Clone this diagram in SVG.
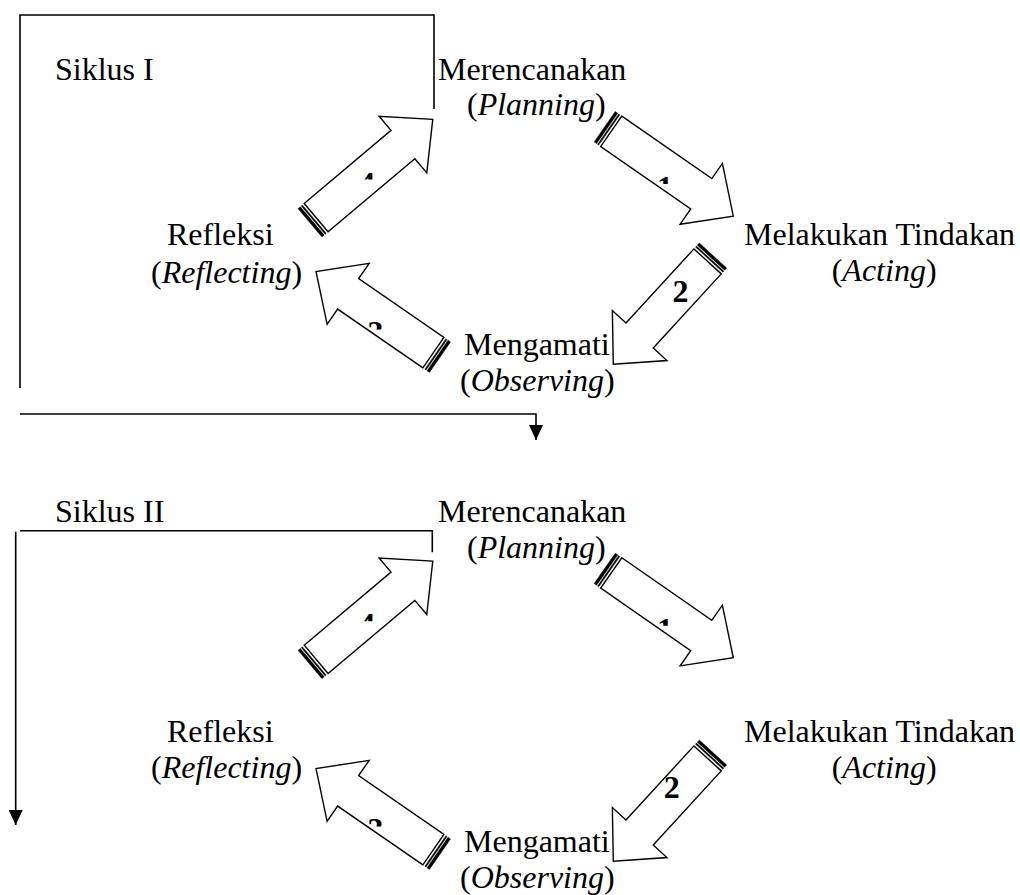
<svg xmlns="http://www.w3.org/2000/svg" xmlns:xlink="http://www.w3.org/1999/xlink" width="1020" height="895" viewBox="0 0 1020 895">
<defs>
<style>
text{font-family:"Liberation Serif","Times New Roman",serif;font-size:32px;fill:#000}
.it{font-style:italic}
.num{font-weight:bold;text-anchor:middle}
.body{fill:#fff;stroke:#000;stroke-width:1.4;stroke-linejoin:miter}
.stripe{fill:#000;stroke:#000;stroke-width:0.4}
.ln{fill:none;stroke:#000;stroke-width:1.6}
</style>
<marker id="ah" markerUnits="userSpaceOnUse" markerWidth="15" markerHeight="14" refX="15" refY="7" orient="auto"><path d="M0,0 L15,7 L0,14 Z" fill="#000"/></marker>
<g id="stripes" class="stripe"><rect x="0" y="-18.5" width="3" height="37"/><rect x="4.2" y="-18.5" width="1.4" height="37"/></g>
<clipPath id="k4a"><rect x="340" y="150" width="60" height="29.5"/></clipPath>
<clipPath id="k1a"><rect x="640" y="150" width="60" height="34"/></clipPath>
<clipPath id="k3a"><rect x="350" y="300" width="60" height="29.5"/></clipPath>
<clipPath id="k4b"><rect x="340" y="591.7" width="60" height="29.5"/></clipPath>
<clipPath id="k1b"><rect x="640" y="591.7" width="60" height="34"/></clipPath>
<clipPath id="k3b"><rect x="350" y="797" width="60" height="29.5"/></clipPath>
</defs>
<rect width="1020" height="895" fill="#fff"/>

<g id="connectors">
  <!-- Cycle I -->
  <g id="c1-a1">
    <g transform="translate(604.7,126.7) rotate(34.8)"><use xlink:href="#stripes"/><path class="body" d="M8,-18.5 H117.6 V-37 L156.6,0 L117.6,37 V18.5 H8 Z"/></g>
    <text class="num" x="665" y="198" clip-path="url(#k1a)">1</text>
  </g>
  <g id="c1-a2">
    <g transform="translate(713,255.5) rotate(132.5)"><use xlink:href="#stripes"/><path class="body" d="M8,-18.5 H108.6 V-37 L147.6,0 L108.6,37 V18.5 H8 Z"/></g>
    <text class="num" x="680.5" y="301.7">2</text>
  </g>
  <g id="c1-a3">
    <g transform="translate(440,357.2) rotate(214.6)"><use xlink:href="#stripes"/><path class="body" d="M8,-18.5 H111.6 V-37 L150.6,0 L111.6,37 V18.5 H8 Z"/></g>
    <text class="num" x="375.5" y="342.6" clip-path="url(#k3a)">3</text>
  </g>
  <g id="c1-a4">
    <g transform="translate(310,222.8) rotate(-40.1)"><use xlink:href="#stripes"/><path class="body" d="M8,-18.5 H121.5 V-37 L160.5,0 L121.5,37 V18.5 H8 Z"/></g>
    <text class="num" x="367" y="193.6" clip-path="url(#k4a)">4</text>
  </g>
  <path class="ln" d="M434,109 V15 H20 V388"/>
  <path class="ln" d="M20,414 H536 V440" marker-end="url(#ah)"/>

  <!-- Cycle II -->
  <g id="c2-a1">
    <g transform="translate(604.7,568.4) rotate(34.8)"><use xlink:href="#stripes"/><path class="body" d="M8,-18.5 H117.6 V-37 L156.6,0 L117.6,37 V18.5 H8 Z"/></g>
    <text class="num" x="665" y="639.7" clip-path="url(#k1b)">1</text>
  </g>
  <g id="c2-a2">
    <g transform="translate(713,752.5) rotate(132.5)"><use xlink:href="#stripes"/><path class="body" d="M8,-18.5 H108.6 V-37 L147.6,0 L108.6,37 V18.5 H8 Z"/></g>
    <text class="num" x="671.7" y="798.3">2</text>
  </g>
  <g id="c2-a3">
    <g transform="translate(440,854.2) rotate(214.6)"><use xlink:href="#stripes"/><path class="body" d="M8,-18.5 H111.6 V-37 L150.6,0 L111.6,37 V18.5 H8 Z"/></g>
    <text class="num" x="375.5" y="839.6" clip-path="url(#k3b)">3</text>
  </g>
  <g id="c2-a4">
    <g transform="translate(310,664.5) rotate(-40.1)"><use xlink:href="#stripes"/><path class="body" d="M8,-18.5 H121.5 V-37 L160.5,0 L121.5,37 V18.5 H8 Z"/></g>
    <text class="num" x="367" y="635.3" clip-path="url(#k4b)">4</text>
  </g>
  <path class="ln" d="M432.3,552.3 V530.7 H20"/>
  <path class="ln" d="M15.7,531.7 V825" marker-end="url(#ah)"/>
</g>

<g id="c1-title"><text x="55" y="80">Siklus I</text></g>
<g id="c1-plan"><text x="438" y="80">Merencanakan</text><text x="467" y="115">(<tspan class="it">Planning</tspan>)</text></g>
<g id="c1-act"><text x="744" y="245">Melakukan Tindakan</text><text x="831.7" y="280.7">(<tspan class="it">Acting</tspan>)</text></g>
<g id="c1-obs"><text x="464" y="355">Mengamati</text><text x="460" y="390.7">(<tspan class="it">Observing</tspan>)</text></g>
<g id="c1-refl"><text x="167" y="245">Refleksi</text><text x="151" y="283.3">(<tspan class="it">Reflecting</tspan>)</text></g>

<g id="c2-title"><text x="55" y="521.7">Siklus II</text></g>
<g id="c2-plan"><text x="438" y="521.7">Merencanakan</text><text x="467" y="558.3">(<tspan class="it">Planning</tspan>)</text></g>
<g id="c2-act"><text x="744" y="741.7">Melakukan Tindakan</text><text x="831.7" y="778.3">(<tspan class="it">Acting</tspan>)</text></g>
<g id="c2-obs"><text x="464" y="851.7">Mengamati</text><text x="460" y="888">(<tspan class="it">Observing</tspan>)</text></g>
<g id="c2-refl"><text x="167" y="741.7">Refleksi</text><text x="151" y="778.3">(<tspan class="it">Reflecting</tspan>)</text></g>
</svg>
